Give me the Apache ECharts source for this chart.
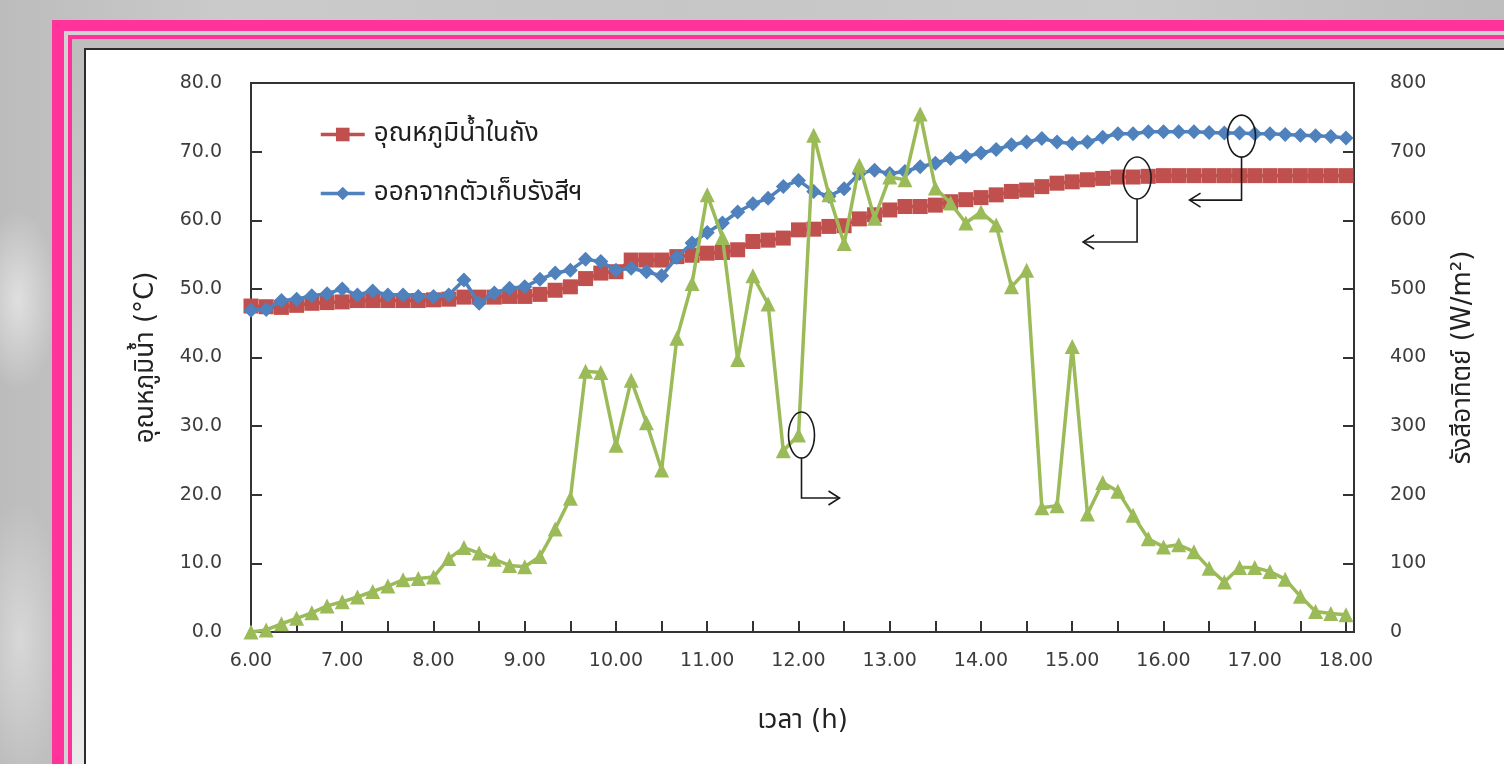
<!DOCTYPE html>
<html>
<head>
<meta charset="utf-8">
<script src="https://cdn.jsdelivr.net/npm/echarts@6/dist/echarts.min.js"></script>
<style>
  html, body { margin: 0; padding: 0; width: 1504px; height: 764px; overflow: hidden; }
  body {
    position: relative;
    background:
      radial-gradient(ellipse 40px 90px at 18px 300px, rgba(232,232,232,0.8), rgba(232,232,232,0) 100%),
      radial-gradient(ellipse 45px 140px at 20px 640px, rgba(222,222,222,0.8), rgba(222,222,222,0) 100%),
      linear-gradient(90deg, #bcbcbc 0%, #cacaca 15%, #c6c6c6 45%, #cbcbcb 75%, #bdbdbd 100%);
  }
  .layer { position: absolute; right: -40px; bottom: -40px; }
  .band  { left: 52px; top: 20px; background: #ff3399; }
  .gap   { left: 64px; top: 31px; background: #d2d2d2; }
  .thin  { left: 68px; top: 35px; background: #ff3399; }
  .shade { left: 72px; top: 39px; background: linear-gradient(180deg, #bdbdbd, #ededed); }
  .edge  { left: 84px; top: 48px; background: #2b2b2b; }
  .paper { left: 86px; top: 50px; background: #ffffff; }
  #chart { position: absolute; left: 0; top: 0; width: 1504px; height: 764px; }
</style>
</head>
<body>
<div class="layer band"></div>
<div class="layer gap"></div>
<div class="layer thin"></div>
<div class="layer shade"></div>
<div class="layer edge"></div>
<div class="layer paper"></div>
<div id="chart"></div>
<script>
// Readings every 10 minutes, clock time written as hour.minute
const times = [
  '6.00','6.10','6.20','6.30','6.40','6.50',
  '7.00','7.10','7.20','7.30','7.40','7.50',
  '8.00','8.10','8.20','8.30','8.40','8.50',
  '9.00','9.10','9.20','9.30','9.40','9.50',
  '10.00','10.10','10.20','10.30','10.40','10.50',
  '11.00','11.10','11.20','11.30','11.40','11.50',
  '12.00','12.10','12.20','12.30','12.40','12.50',
  '13.00','13.10','13.20','13.30','13.40','13.50',
  '14.00','14.10','14.20','14.30','14.40','14.50',
  '15.00','15.10','15.20','15.30','15.40','15.50',
  '16.00','16.10','16.20','16.30','16.40','16.50',
  '17.00','17.10','17.20','17.30','17.40','17.50',
  '18.00'
];

// Water temperature in the tank (°C)
const tankTemp = [
  47.5, 47.4, 47.3, 47.6, 47.9, 48.0,
  48.1, 48.3, 48.3, 48.3, 48.3, 48.3,
  48.4, 48.5, 48.8, 48.8, 48.8, 48.9,
  48.9, 49.2, 49.8, 50.3, 51.5, 52.3,
  52.5, 54.2, 54.2, 54.2, 54.7, 54.9,
  55.2, 55.3, 55.7, 56.9, 57.1, 57.4,
  58.6, 58.7, 59.1, 59.2, 60.2, 60.8,
  61.5, 62.0, 62.0, 62.2, 62.7, 63.0,
  63.3, 63.7, 64.2, 64.4, 64.9, 65.4,
  65.6, 65.9, 66.1, 66.3, 66.3, 66.4,
  66.5, 66.5, 66.5, 66.5, 66.5, 66.5,
  66.5, 66.5, 66.5, 66.5, 66.5, 66.5,
  66.5
];

// Water temperature leaving the solar collector (°C)
const collectorOut = [
  46.9, 47.0, 48.3, 48.5, 49.0, 49.3,
  50.0, 49.1, 49.7, 49.1, 49.1, 48.9,
  48.9, 49.1, 51.3, 47.9, 49.4, 50.1,
  50.3, 51.4, 52.3, 52.7, 54.3, 54.0,
  52.7, 53.0, 52.5, 51.9, 54.6, 56.7,
  58.2, 59.6, 61.2, 62.4, 63.2, 64.9,
  65.8, 64.2, 63.5, 64.6, 66.8, 67.3,
  66.8, 67.1, 67.8, 68.3, 69.0, 69.3,
  69.8, 70.3, 71.0, 71.4, 71.9, 71.4,
  71.2, 71.4, 72.1, 72.6, 72.6, 72.9,
  72.9, 72.9, 72.9, 72.8, 72.7, 72.7,
  72.6, 72.6, 72.5, 72.4, 72.3, 72.2,
  72.0
];

// Solar radiation (W/m²)
const radiation = [
  0, 3, 12, 20, 28, 38,
  44, 51, 59, 67, 76, 78,
  80, 107, 123, 115, 106, 97,
  95, 110, 150, 195, 380, 378,
  272, 367, 305, 236, 428, 508,
  637, 575, 397, 519, 478, 264,
  287, 724, 637, 566, 680, 603,
  663, 659, 755, 647, 625, 596,
  612, 593, 503, 527, 181, 184,
  416, 172, 218, 205, 170, 136,
  124, 127, 117, 93, 73, 94,
  94, 88, 77, 52, 30, 27,
  25
];

const seriesNames = ['อุณหภูมิน้ำในถัง', 'ออกจากตัวเก็บรังสีฯ', 'รังสีอาทิตย์'];
const leftAxisName = 'อุณหภูมิน้ำ (°C)';
const rightAxisName = 'รังสีอาทิตย์ (W/m²)';
const xAxisName = 'เวลา (h)';

const toHours = t => { const [h, m] = t.split('.').map(Number); return h + m / 60; };
const pairs = vals => times.map((t, i) => [toHours(t), vals[i]]);

const FONT = '"DejaVu Sans", "Noto Sans Thai", Tahoma, sans-serif';
const TXT = '#3c3c3c';
const NAME_SIZE = 26;

const chart = echarts.init(document.getElementById('chart'), null, { renderer: 'canvas' });

chart.setOption({
  animation: false,
  backgroundColor: 'transparent',
  textStyle: { fontFamily: FONT },
  grid: { left: 251, right: 150, top: 83, bottom: 132, show: true, borderColor: '#333', borderWidth: 2, backgroundColor: 'transparent' },
  legend: {
    data: [seriesNames[0], seriesNames[1]],
    orient: 'vertical',
    left: 314,
    top: 116,
    itemWidth: 44,
    itemHeight: 17,
    itemGap: 32,
    lineStyle: { width: 3.5 },
    textStyle: { fontSize: NAME_SIZE, color: '#1e1e1e', lineHeight: 27, fontFamily: FONT, padding: [0, 0, 0, 4] }
  },
  xAxis: {
    type: 'value',
    min: 6,
    max: 18.0877,
    interval: 0.5,
    name: xAxisName,
    nameLocation: 'middle',
    nameGap: 76,
    nameTextStyle: { fontSize: NAME_SIZE, color: '#222', fontFamily: FONT },
    axisLine: { lineStyle: { color: '#333', width: 2 } },
    axisTick: { inside: true, length: 11, lineStyle: { color: '#333', width: 2 } },
    axisLabel: {
      margin: 20, fontSize: 19, color: TXT, fontFamily: FONT,
      formatter: v => Math.abs(v - Math.round(v)) < 1e-6 ? Math.round(v) + '.00' : ''
    },
    splitLine: { show: false }
  },
  yAxis: [
    {
      type: 'value', min: 0, max: 80, interval: 10,
      name: leftAxisName, nameLocation: 'middle', nameRotate: 90, nameGap: 92,
      nameTextStyle: { fontSize: NAME_SIZE, color: '#222', fontFamily: FONT },
      axisLine: { show: true, lineStyle: { color: '#333', width: 2 } },
      axisTick: { show: true, inside: true, length: 11, lineStyle: { color: '#333', width: 2 } },
      axisLabel: { margin: 29, fontSize: 19, color: TXT, fontFamily: FONT, formatter: v => v.toFixed(1) },
      splitLine: { show: false }
    },
    {
      type: 'value', min: 0, max: 800, interval: 100, position: 'right',
      name: rightAxisName, nameLocation: 'middle', nameRotate: 90, nameGap: 96,
      nameTextStyle: { fontSize: NAME_SIZE, color: '#222', fontFamily: FONT },
      axisLine: { show: true, lineStyle: { color: '#333', width: 2 } },
      axisTick: { show: true, inside: true, length: 11, lineStyle: { color: '#333', width: 2 } },
      axisLabel: { margin: 36, fontSize: 19, color: TXT, fontFamily: FONT },
      splitLine: { show: false }
    }
  ],
  series: [
    {
      name: seriesNames[0], type: 'line', yAxisIndex: 0, data: pairs(tankTemp),
      symbol: 'rect', symbolSize: 15, color: '#C0504D',
      lineStyle: { width: 3.5, color: '#C0504D' }, itemStyle: { color: '#C0504D' }, z: 2
    },
    {
      name: seriesNames[1], type: 'line', yAxisIndex: 0, data: pairs(collectorOut),
      symbol: 'diamond', symbolSize: 15, color: '#4F81BD',
      lineStyle: { width: 3.5, color: '#4F81BD' }, itemStyle: { color: '#4F81BD' }, z: 3
    },
    {
      name: seriesNames[2], type: 'line', yAxisIndex: 1, data: pairs(radiation),
      symbol: 'triangle', symbolSize: 15, color: '#9BBB59',
      lineStyle: { width: 3.5, color: '#9BBB59' }, itemStyle: { color: '#9BBB59' }, z: 4
    }
  ]
});

// Callouts: an ellipse around a reading and an elbow arrow pointing to the axis it belongs to
function callout(seriesVals, idx, yAxisIndex, dx, dy, rx, ry, drop, run) {
  const p = chart.convertToPixel({ xAxisIndex: 0, yAxisIndex: yAxisIndex }, [toHours(times[idx]), seriesVals[idx]]);
  const cx = p[0] + dx, cy = p[1] + dy;
  const yb = cy + drop, xe = cx + run;
  const dir = run > 0 ? -1 : 1;
  const stroke = { stroke: '#1a1a1a', lineWidth: 1.6, fill: null };
  return [
    { type: 'ellipse', shape: { cx: cx, cy: cy, rx: rx, ry: ry }, style: stroke, z: 100 },
    { type: 'polyline', shape: { points: [[cx, cy + ry], [cx, yb], [xe, yb]] }, style: stroke, z: 100 },
    { type: 'polyline', shape: { points: [[xe + dir * 11, yb - 7], [xe, yb], [xe + dir * 11, yb + 7]] }, style: stroke, z: 100 }
  ];
}

chart.setOption({
  graphic: [].concat(
    callout(radiation, 36, 1, 3, 0, 13, 23, 63, 38),
    callout(tankTemp, 58, 0, 4, 1, 14, 21, 64, -54),
    callout(collectorOut, 65, 0, 2, 3, 14, 21, 64, -52)
  )
});
</script>
</body>
</html>
